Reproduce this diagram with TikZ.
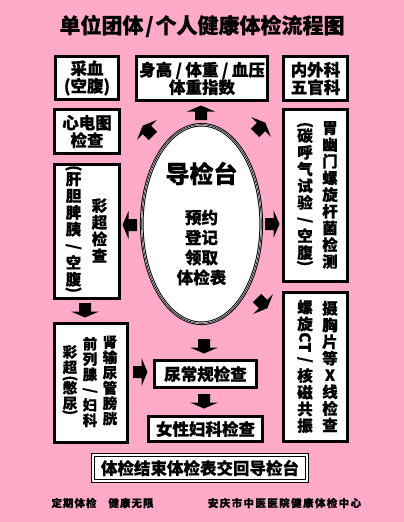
\documentclass[tikz,border=0pt]{standalone}
\usepackage{fontspec}
\usepackage{graphicx}
\newfontfamily\cjk{Noto Sans CJK SC}[BoldFeatures={FakeBold=0.6}]
\definecolor{bgpink}{HTML}{FFAAC8}
\newcommand\mytitlefont{\cjk\bfseries\fontsize{21}{23}\selectfont}
\newcommand\myboxfont{\cjk\bfseries\fontsize{16.5}{17.5}\selectfont}
\newcommand\myvfont{\cjk\bfseries\fontsize{15.5}{16.7}\selectfont}
\newcommand\mysfont{\cjk\bfseries\fontsize{14.5}{15.3}\selectfont}
\newcommand\myfootfont{\cjk\bfseries\fontsize{10.5}{12}\selectfont}
\newcommand\vlp{\rotatebox[origin=c]{-90}{(}}
\newcommand\vrp{\rotatebox[origin=c]{-90}{)}}
\newcommand\vsl{\rotatebox[origin=c]{-90}{/}}
\newcommand\vct{\rotatebox[origin=c]{-90}{CT}}
\newcommand\hsl{\kern3.5pt/\kern3.5pt}
\tikzset{
  box/.style={draw=black, line width=3pt, fill=white, inner sep=0pt, align=center, font=\myboxfont},
  vcol/.style={inner sep=0pt, align=center, font=\myvfont},
  scol/.style={inner sep=0pt, align=center, font=\mysfont},
  pics/blk/.style={code={\fill[black] (-7pt,-6pt) -- (1.5pt,-6pt) -- (1.5pt,-14pt) -- (7.5pt,0pt) -- (1.5pt,14pt) -- (1.5pt,6pt) -- (-7pt,6pt) -- cycle;}}
}
\usetikzlibrary{shapes.geometric}
\begin{document}
\begin{tikzpicture}[x=1pt,y=-1pt]
\useasboundingbox (0,0) rectangle (404,522);
\fill[bgpink] (0,0) rectangle (404,522);
\node[font=\mytitlefont, inner sep=0pt] (title) at (202,26) {单位团体\kern2pt/\kern2pt 个人健康体检流程图};

% top row
\node[box, minimum width=63, minimum height=43] (b1) at (87,78) {采血\\(空腹)};
\node[box, minimum width=131, minimum height=44] (b2) at (202,78.5) {身高\hsl 体重\hsl 血压\\体重指数};
\node[box, minimum width=64, minimum height=44] (b3) at (315.5,78.5) {内外科\\五官科};
\node[box, minimum width=65, minimum height=44] (b4) at (87,131.5) {心电图\\检查};

% tall side boxes
\node[box, minimum width=65, minimum height=134] (b5) at (87,231.5) {};
\node[vcol] (c5a) at (99.5,230.5) {彩\\超\\检\\查};
\node[vcol] (c5b) at (73.5,230) {\vlp\\[-5pt]肝\\胆\\脾\\胰\\\vsl\\空\\腹\\[-7pt]\vrp};

\node[box, minimum width=64, minimum height=172] (b6) at (315.5,195.5) {};
\node[vcol] (c6a) at (330,195) {胃\\幽\\门\\螺\\旋\\杆\\菌\\检\\测};
\node[vcol] (c6b) at (305,195) {\vlp\\[-5pt]碳\\呼\\气\\试\\验\\\vsl\\空\\腹\\[-7pt]\vrp};

\node[box, minimum width=64, minimum height=149] (b7) at (315.5,367) {};
\node[vcol] (c7a) at (330,366.5) {摄\\胸\\片\\等\\X\\线\\检\\查};
\node[vcol] (c7b) at (305,366.5) {螺\\旋\\\vct\\\vsl\\核\\磁\\共\\振};

\node[box, minimum width=73, minimum height=119] (b8) at (91,383) {};
\node[scol] (c8a) at (110,380.5) {肾\\输\\尿\\管\\膀\\胱};
\node[scol] (c8b) at (90,382) {前\\列\\腺\\\vsl\\妇\\科};
\node[scol] (c8c) at (70,381) {彩\\超\\[-5pt]\vlp\\[-5pt]憋\\尿\\[-7pt]\vrp};

% centre column
\node[box, minimum width=102, minimum height=27] (b9) at (205.5,374) {尿常规检查};
\node[box, minimum width=114, minimum height=25] (b10) at (205.5,429) {女性妇科检查};
\node[draw=black, line width=1.2pt, double=white, double distance=1.8pt, fill=white, inner sep=0pt,
      minimum width=214, minimum height=26, font=\myboxfont] (b11) at (200,468) {体检结束体检表交回导检台};

% central ellipse
\node[ellipse, draw=black, line width=1pt, double=white, double distance=1.6pt, fill=white,
      inner sep=0pt, minimum width=119.5, minimum height=198.5] (guide) at (201.5,224) {};
\draw[line width=0.6pt] (guide.center) ellipse [x radius=59.8pt, y radius=99.3pt];
\node[font=\cjk\bfseries\fontsize{24}{26}\selectfont, inner sep=0pt] (gt) at (201.5,173.5) {导检台};
\node[align=center, inner sep=0pt, font=\cjk\bfseries\fontsize{16.5}{20}\selectfont] (gt2) at (201.5,247.5) {预约\\登记\\领取\\体检表};

% block arrows
\pic[rotate=90] (a1) at (201,113) {blk};
\pic[rotate=135] (a2) at (148,131) {blk};
\pic[rotate=45] (a3) at (260,128) {blk};
\pic[rotate=180] (a4) at (130,225) {blk};
\pic[rotate=0] (a5) at (272,224) {blk};
\pic[rotate=-45] (a6) at (262,303) {blk};
\pic[rotate=-90] (a7) at (85,310) {blk};
\pic[rotate=-90] (a8) at (204,346) {blk};
\pic[rotate=-90] (a9) at (204,401) {blk};
\pic[rotate=0] (a10) at (140,372) {blk};

% footer
\node[font=\myfootfont, inner sep=0pt] (f1) at (102.5,503) {定\kern1pt 期\kern1pt 体\kern1pt 检\kern12pt 健\kern1pt 康\kern1pt 无\kern1pt 限};
\node[font=\myfootfont, inner sep=0pt] (f2) at (284.5,503) {安\kern1.4pt 庆\kern1.4pt 市\kern1.4pt 中\kern1.4pt 医\kern1.4pt 医\kern1.4pt 院\kern1.4pt 健\kern1.4pt 康\kern1.4pt 体\kern1.4pt 检\kern1.4pt 中\kern1.4pt 心};
\end{tikzpicture}
\end{document}
